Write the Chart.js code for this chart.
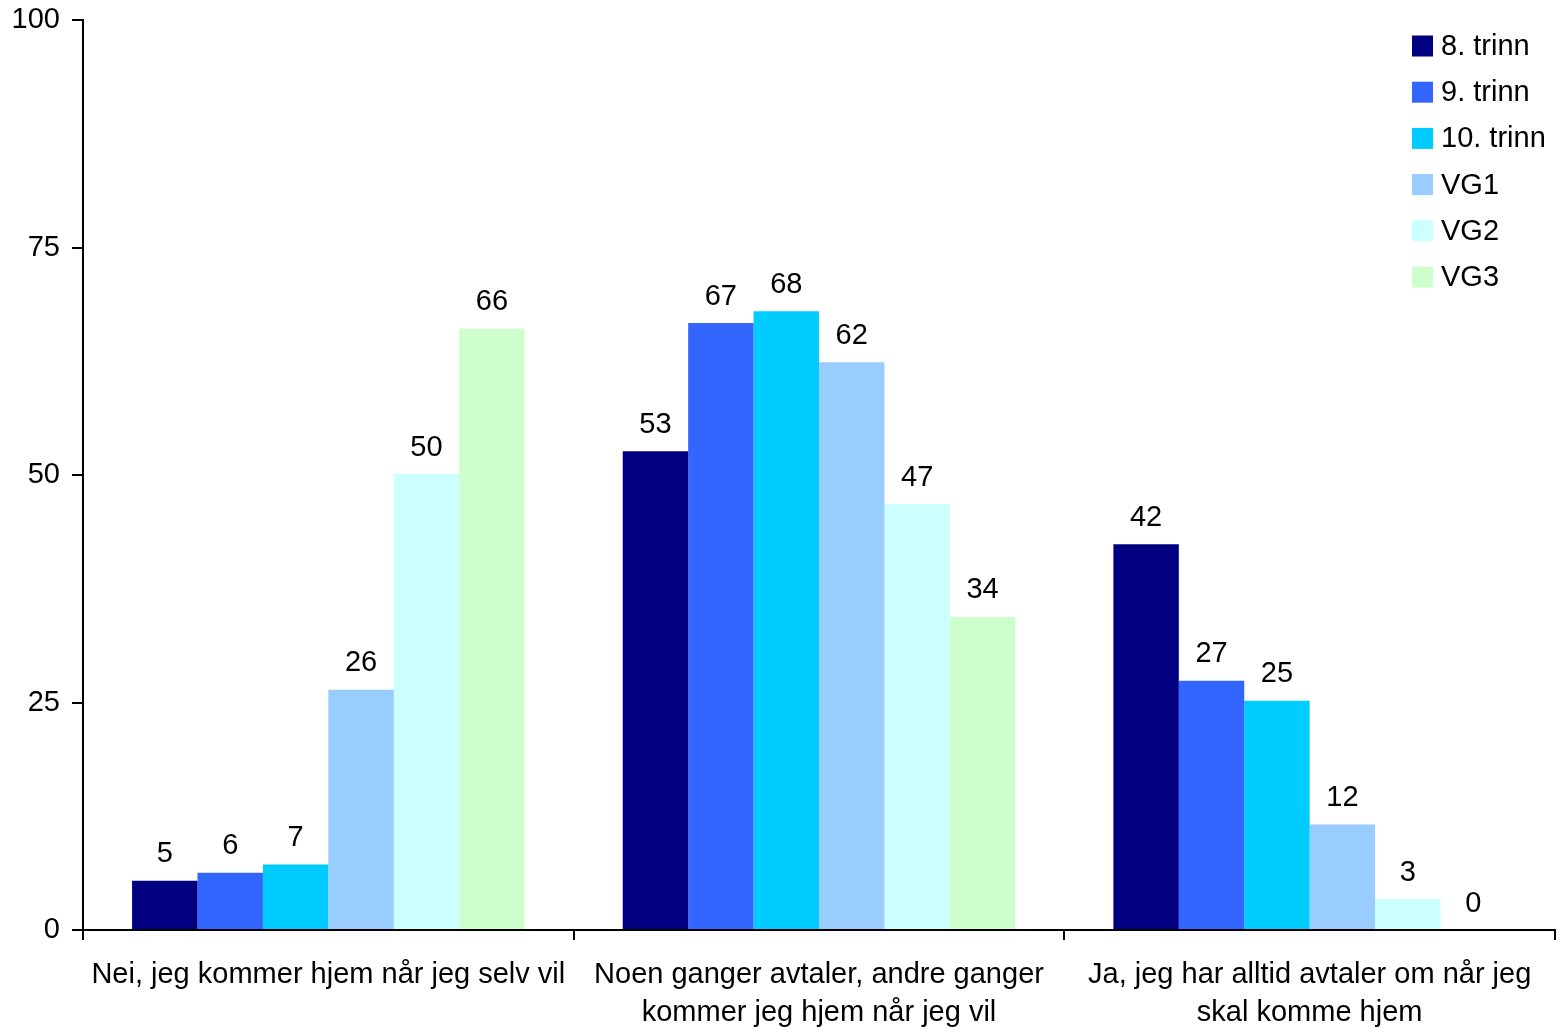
<html lang="no">
<head>
    <meta charset="UTF-8">
    <title>Avtaler om når jeg skal komme hjem</title>
    <script src="https://cdn.jsdelivr.net/npm/chart.js"></script>
    <style>
        html, body { margin: 0; padding: 0; background: #ffffff; }
        #wrap { width: 1564px; height: 1030px; position: relative; }
    </style>
</head>
<body>
    <div id="wrap"><canvas id="chart"></canvas></div>

    <script>
        // Kategorier (to linjer der teksten brytes)
        const categories = [
            ['Nei, jeg kommer hjem når jeg selv vil'],
            ['Noen ganger avtaler, andre ganger', 'kommer jeg hjem når jeg vil'],
            ['Ja, jeg har alltid avtaler om når jeg', 'skal komme hjem']
        ];

        const seriesNames = ['8. trinn', '9. trinn', '10. trinn', 'VG1', 'VG2', 'VG3'];
        const seriesColors = ['#000080', '#3366FF', '#00CCFF', '#99CCFF', '#CCFFFF', '#CCFFCC'];

        // Prosent per trinn, lest fra figuren
        const trinn8 = [5.4, 52.6, 42.4];
        const trinn9 = [6.3, 66.7, 27.4];
        const trinn10 = [7.2, 68.0, 25.2];
        const vg1 = [26.4, 62.4, 11.6];
        const vg2 = [50.1, 46.8, 3.4];
        const vg3 = [66.1, 34.4, 0.0];

        const yTicks = [0, 25, 50, 75, 100];

        const FONT = "'Liberation Sans', Arial, sans-serif";
        const FSIZE = 29;

        // Tallene over søylene
        const valueLabels = {
            id: 'valueLabels',
            afterDatasetsDraw(chart) {
                const ctx = chart.ctx;
                ctx.save();
                ctx.font = FSIZE + 'px ' + FONT;
                ctx.fillStyle = '#000';
                ctx.textAlign = 'center';
                ctx.textBaseline = 'bottom';
                chart.data.datasets.forEach((ds, i) => {
                    chart.getDatasetMeta(i).data.forEach((bar, j) => {
                        ctx.fillText(Math.round(ds.data[j]), bar.x, bar.y - 12);
                    });
                });
                ctx.restore();
            }
        };

        // Forklaring inne i plottet, øverst til høyre
        const boxLegend = {
            id: 'boxLegend',
            afterDraw(chart) {
                const ctx = chart.ctx;
                ctx.save();
                ctx.font = FSIZE + 'px ' + FONT;
                ctx.textBaseline = 'middle';
                ctx.textAlign = 'left';
                chart.data.datasets.forEach((ds, i) => {
                    const y = 46 + i * 46.2;
                    ctx.fillStyle = ds.backgroundColor;
                    ctx.fillRect(1412, y - 10.5, 21, 21);
                    ctx.fillStyle = '#000';
                    ctx.fillText(ds.label, 1441, y + 1);
                });
                ctx.restore();
            }
        };

        const allValues = [trinn8, trinn9, trinn10, vg1, vg2, vg3];

        new Chart(document.getElementById('chart'), {
            type: 'bar',
            data: {
                labels: categories,
                datasets: seriesNames.map((name, i) => ({
                    label: name,
                    data: allValues[i],
                    backgroundColor: seriesColors[i],
                    borderWidth: 0,
                    categoryPercentage: 0.8,
                    barPercentage: 1.0
                }))
            },
            options: {
                responsive: true,
                maintainAspectRatio: false,
                animation: false,
                layout: { padding: { top: 20, right: 9, left: 0, bottom: 0 } },
                plugins: {
                    legend: { display: false },
                    tooltip: { enabled: false }
                },
                scales: {
                    x: {
                        offset: true,
                        border: { color: '#000', width: 2 },
                        grid: {
                            offset: true,
                            drawOnChartArea: false,
                            drawTicks: true,
                            tickLength: 10,
                            color: '#000',
                            lineWidth: 2
                        },
                        ticks: {
                            color: '#000',
                            font: { family: FONT, size: FSIZE, lineHeight: 1.3 },
                            padding: 16,
                            maxRotation: 0,
                            autoSkip: false
                        },
                        afterFit(axis) {
                            axis.height = 100;
                            axis.paddingLeft = 0;
                            axis.paddingRight = 0;
                        }
                    },
                    y: {
                        min: 0,
                        max: 100,
                        afterBuildTicks(axis) { axis.ticks = yTicks.map(v => ({ value: v })); },
                        border: { color: '#000', width: 2 },
                        grid: {
                            drawOnChartArea: false,
                            drawTicks: true,
                            tickLength: 11,
                            color: '#000',
                            lineWidth: 2
                        },
                        ticks: {
                            color: '#000',
                            font: { family: FONT, size: FSIZE },
                            padding: 12
                        },
                        afterFit(axis) {
                            axis.width = 83;
                            axis.paddingTop = 0;
                            axis.paddingBottom = 0;
                        }
                    }
                }
            },
            plugins: [valueLabels, boxLegend]
        });
    </script>
</body>
</html>
